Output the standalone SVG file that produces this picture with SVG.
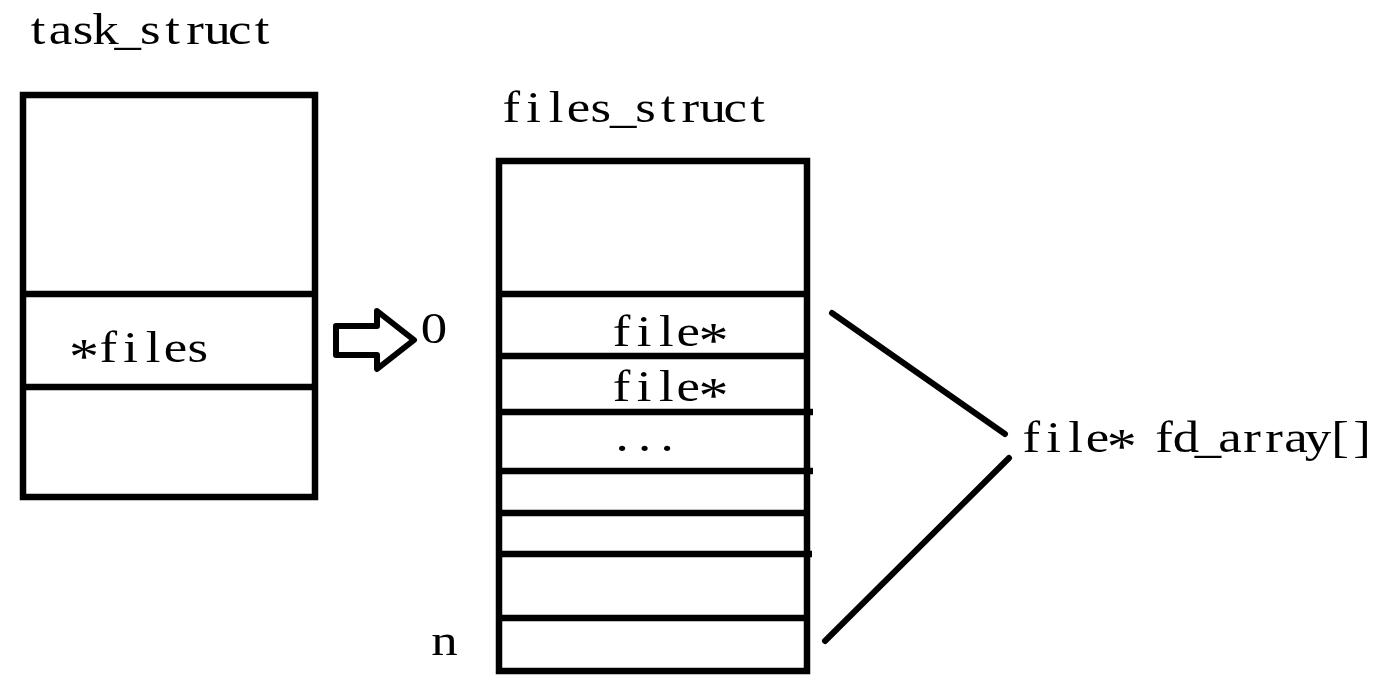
<svg xmlns="http://www.w3.org/2000/svg" width="1399" height="693" viewBox="0 0 1399 693">
<style>
.box{fill:none;stroke:#000;stroke-width:6.5}
.div{stroke:#000;stroke-width:6.5;stroke-linecap:butt}
.conn{stroke:#000;stroke-width:6;stroke-linecap:round;fill:none}
.t{font-family:"Liberation Serif","DejaVu Serif",serif;font-size:44px;fill:#000;text-anchor:middle}
.ast{font-size:50px}
</style>
<rect width="1399" height="693" fill="#fff"/>
<g id="task_struct">
<text class="t" transform="scale(1.2,1)" x="31.83 50.5 69.17 87.83 106.5 125.17 143.83 162.5 181.17 199.83 218.5" y="44">task_struct</text>
<rect class="box" x="23" y="95" width="292" height="402"/>
<line class="div" x1="23" y1="294" x2="315" y2="294"/>
<line class="div" x1="23" y1="387" x2="315" y2="387"/>
<text class="t" transform="scale(1.2,1)" x="70 90.17 108.83 127.5 146.17 164.83" y="362"><tspan class="ast" dy="11">*</tspan><tspan dy="-11">files</tspan></text>
</g>
<g id="files_struct">
<text class="t" transform="scale(1.2,1)" x="426 444.67 463.33 482 500.67 519.33 538 556.67 575.33 594 612.67 631.33" y="122">files_struct</text>
<rect class="box" x="499" y="161" width="308" height="510"/>
<line class="div" x1="499" y1="294" x2="807" y2="294"/>
<line class="div" x1="499" y1="356" x2="807" y2="356"/>
<line class="div" x1="499" y1="412" x2="813" y2="412"/>
<line class="div" x1="499" y1="471" x2="813" y2="471"/>
<line class="div" x1="499" y1="513" x2="807" y2="513"/>
<line class="div" x1="499" y1="554" x2="812" y2="554"/>
<line class="div" x1="499" y1="618" x2="807" y2="618"/>
<text class="t" transform="scale(1.2,1)" x="518 536.67 555.33 573.5 594.67" y="346">file<tspan class="ast" dy="11">*</tspan></text>
<text class="t" transform="scale(1.2,1)" x="518 536.67 555.33 573.5 594.67" y="401">file<tspan class="ast" dy="11">*</tspan></text>
<text class="t" transform="scale(1.2,1)" x="518.5 537.17 555.83" y="451">...</text>
<text class="t" transform="scale(1.2,1)" x="361.67" y="343">0</text>
<text class="t" transform="scale(1.2,1)" x="370.42" y="655">n</text>
</g>
<g id="fd_array_label">
<text class="t" transform="scale(1.2,1)" x="859.5 878 896.33 914.5 934.83 951.67 970 988.33 1006.67 1025 1043.33 1061.67 1080 1098.33 1116.67 1135" y="452">file<tspan class="ast" dy="11">*</tspan><tspan dy="-11"> fd_array[]</tspan></text>
</g>
<g id="connectors">
<polygon points="336,326 377,326 377,311 414,340 377,369 377,355 336,355" fill="#fff" stroke="#000" stroke-width="6" stroke-linejoin="round"/>
<line class="conn" x1="832" y1="313" x2="1005" y2="434"/>
<line class="conn" x1="825" y1="641" x2="1009" y2="458"/>
</g>
</svg>
